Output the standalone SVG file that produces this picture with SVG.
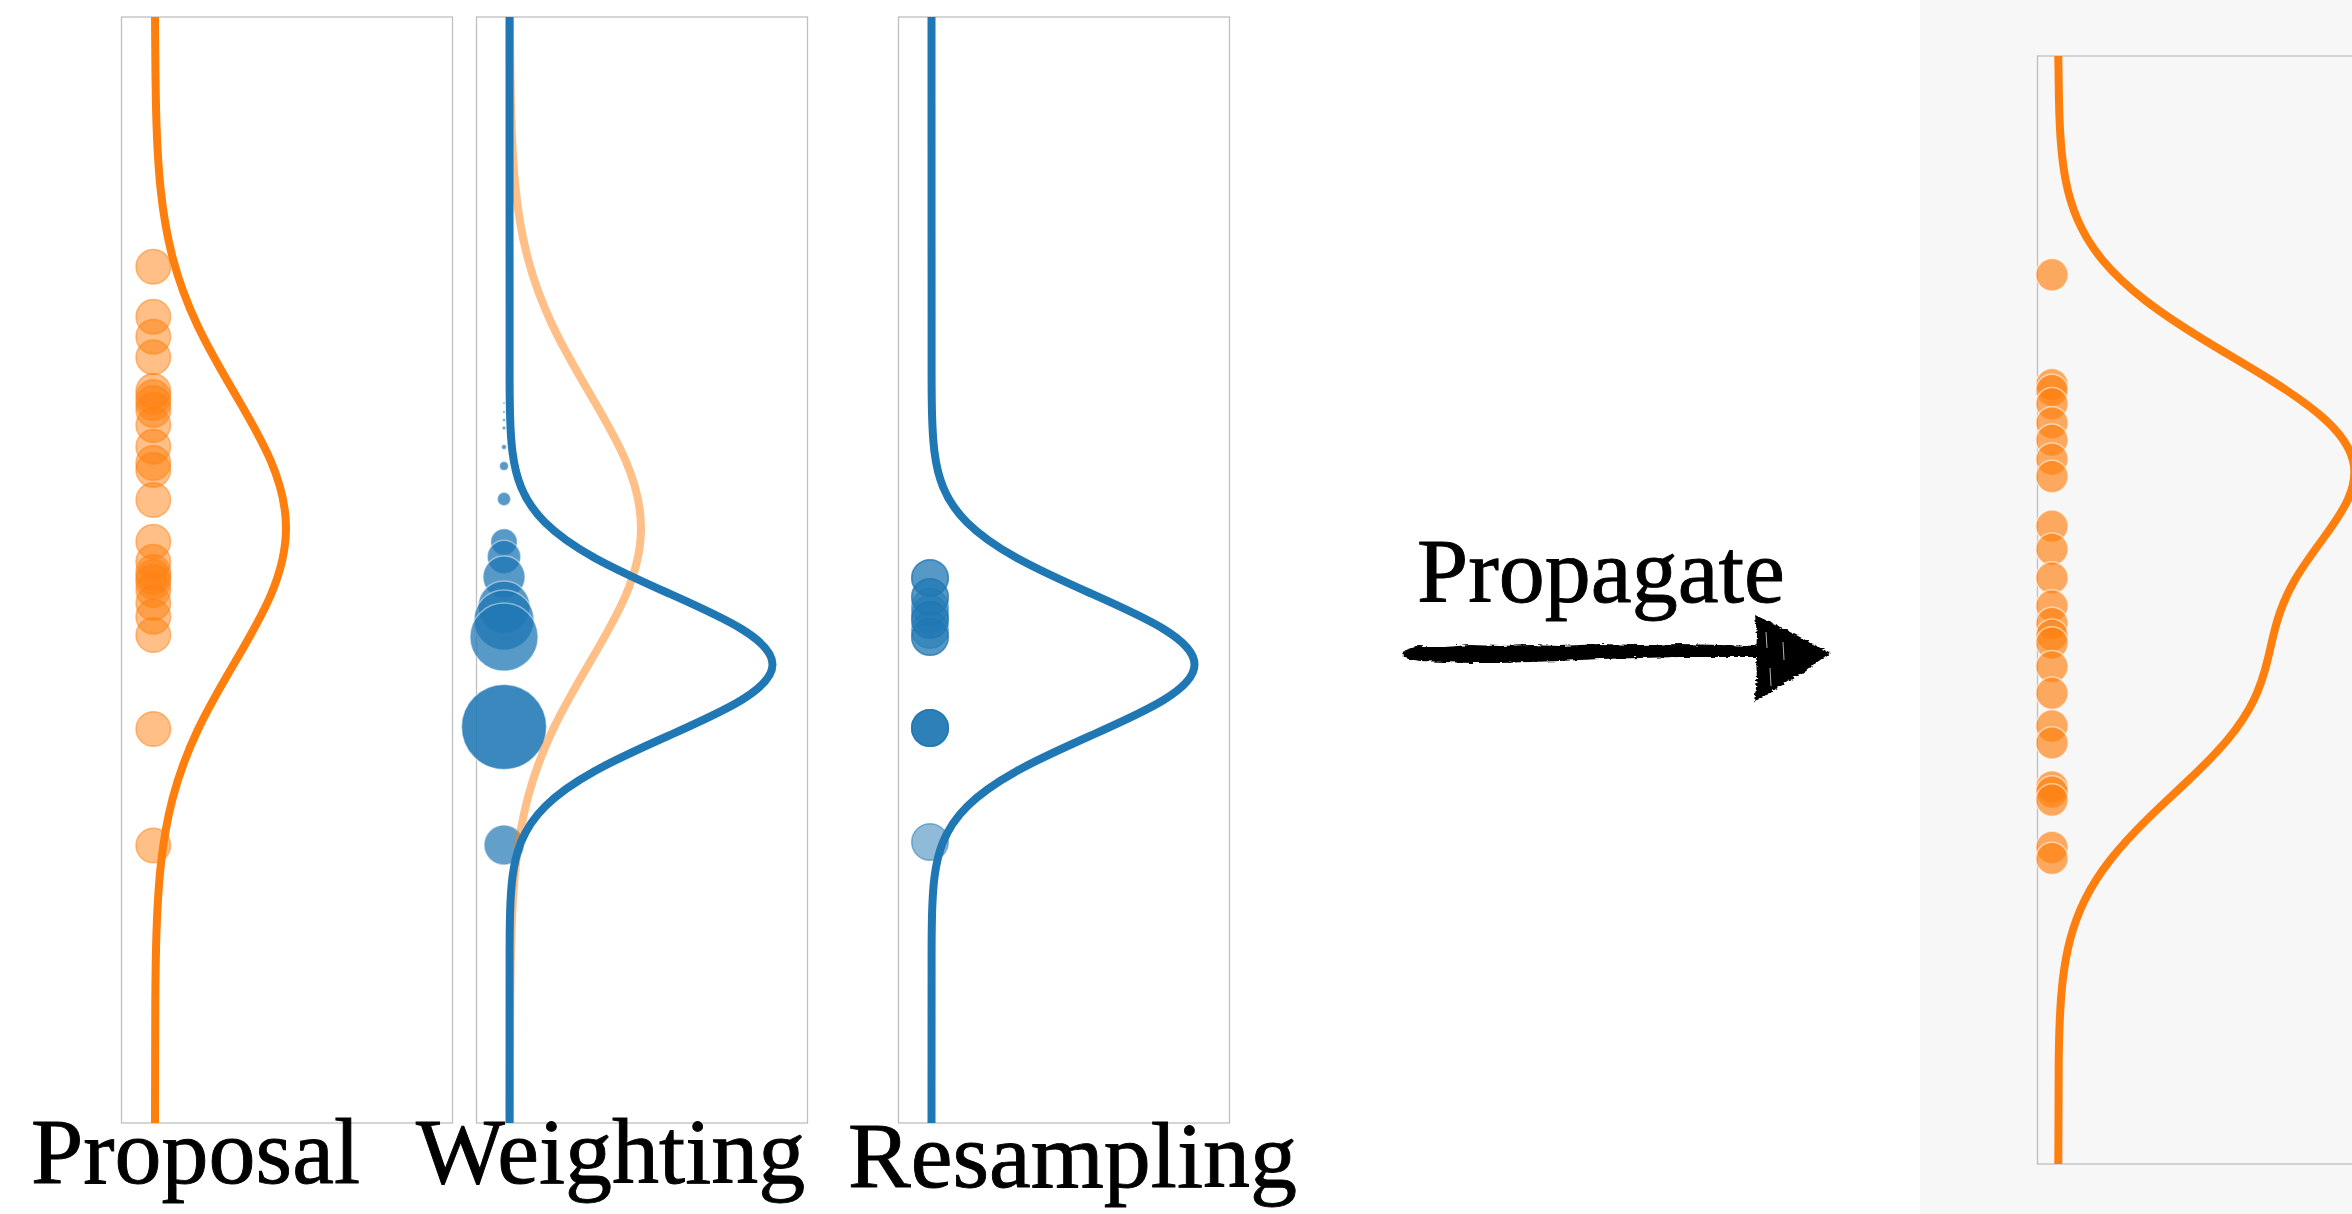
<svg xmlns="http://www.w3.org/2000/svg" xmlns:xlink="http://www.w3.org/1999/xlink" width="2352" height="1214" viewBox="0 0 2352 1214">
  <style>
    .frame { fill: none; stroke: #bfbfbf; stroke-width: 1.3; }
    .lbl { font-family: "Liberation Serif", "Times New Roman", serif; font-size: 94px; fill: #000; stroke: #000; stroke-width: 0.9; }
    .curve { fill: none; stroke-width: 8; }
    .orange { stroke: #ff7f0e; }
    .blue { stroke: #1f77b4; }
    .faded { stroke: #ff7f0e; stroke-opacity: 0.5; }
    .pts-proposal circle { fill: #ff7f0e; fill-opacity: 0.5; stroke: #ff7f0e; stroke-opacity: 0.5; stroke-width: 1.5; }
    .pts-weighted circle { fill: #1f77b4; fill-opacity: 0.75; stroke: #ffffff; stroke-opacity: 0.45; stroke-width: 1.5; }
    .pts-resampled circle { fill: #1f77b4; fill-opacity: 0.5; stroke: #1f77b4; stroke-opacity: 0.5; stroke-width: 1.5; }
    .pts-next circle { fill: #ff7f0e; fill-opacity: 0.65; stroke: #ffffff; stroke-opacity: 0.55; stroke-width: 1.5; }
  </style>
  <defs>
    <!-- proposal density (Gaussian), drawn in the first panel's coordinates -->
    <path id="proposalCurve" d="M155,17 L155.29,55.5 C155.46,78 155.73,100.5 156.46,123 S158.36,168 160.76,190.5 S166.82,235.5 172.73,258 S186.90,303 197.53,325.5 S221.22,370.5 234.46,393 S260.98,438 270.61,460.5 S286,505.5 286,528 S280.24,573 270.61,595.5 S247.70,640.5 234.46,663 S208.16,708 197.53,730.5 S178.64,775.5 172.73,798 S163.16,843 160.76,865.5 S157.19,910.5 156.46,933 S155.46,978 155.29,1000.5 L155,1123"/>
    <!-- target density (narrower Gaussian), drawn in the third panel's coordinates -->
    <path id="targetCurve" d="M931.5,17 L931.59,380.5 C931.65,392.33 931.74,404.17 932.08,416 S932.96,439.67 934.42,451.5 S938.25,475.17 943.06,487 S955.23,510.67 967.09,522.5 S995.53,546.17 1016.88,558 S1064.43,581.67 1091.02,593.5 S1144.26,617.17 1163.60,629 S1194.5,652.67 1194.5,664.5 S1182.94,688.17 1163.60,700 S1117.61,723.67 1091.02,735.5 S1038.23,759.17 1016.88,771 S978.95,794.67 967.09,806.5 S947.88,830.17 943.06,842 S935.88,865.67 934.42,877.5 S932.42,901.17 932.08,913 S931.65,936.67 931.59,948.5 L931.5,1123"/>
    <filter id="brush" x="-5%" y="-40%" width="110%" height="180%">
      <feTurbulence type="fractalNoise" baseFrequency="0.12 0.5" numOctaves="2" seed="7" result="noise"/>
      <feDisplacementMap in="SourceGraphic" in2="noise" scale="5" xChannelSelector="R" yChannelSelector="G"/>
    </filter>
  </defs>

  <rect x="0" y="0" width="2352" height="1214" fill="#ffffff"/>
  <!-- shaded area behind the propagated panel -->
  <rect x="1920" y="0" width="432" height="1214" fill="#f7f7f7"/>

  <!-- Panel 1: proposal -->
  <g id="proposal">
    <rect class="frame" x="121.5" y="17" width="331" height="1106"/>
    <g class="pts-proposal">
      <circle cx="153.3" cy="266.7" r="17.3"/>
      <circle cx="153.3" cy="316.7" r="17.3"/>
      <circle cx="153.3" cy="336.7" r="17.3"/>
      <circle cx="153.3" cy="357.3" r="17.3"/>
      <circle cx="153.3" cy="391" r="17.3"/>
      <circle cx="153.3" cy="397" r="17.3"/>
      <circle cx="153.3" cy="403" r="17.3"/>
      <circle cx="153.3" cy="410" r="17.3"/>
      <circle cx="153.3" cy="425" r="17.3"/>
      <circle cx="153.3" cy="446.7" r="17.3"/>
      <circle cx="153.3" cy="463" r="17.3"/>
      <circle cx="153.3" cy="470" r="17.3"/>
      <circle cx="153.3" cy="500" r="17.3"/>
      <circle cx="153.3" cy="541.7" r="17.3"/>
      <circle cx="153.3" cy="561.7" r="17.3"/>
      <circle cx="153.3" cy="572" r="17.3"/>
      <circle cx="153.3" cy="577" r="17.3"/>
      <circle cx="153.3" cy="582" r="17.3"/>
      <circle cx="153.3" cy="590" r="17.3"/>
      <circle cx="153.3" cy="603" r="17.3"/>
      <circle cx="153.3" cy="616.7" r="17.3"/>
      <circle cx="153.3" cy="635" r="17.3"/>
      <circle cx="153.3" cy="729" r="17.3"/>
      <circle cx="153.3" cy="845.5" r="17.3"/>
    </g>
    <use xlink:href="#proposalCurve" href="#proposalCurve" class="curve orange"/>
    <text class="lbl" x="31" y="1183">Proposal</text>
  </g>

  <!-- Panel 2: weighting -->
  <g id="weighting">
    <rect class="frame" x="476.5" y="17" width="331" height="1106"/>
    <g class="pts-weighted">
      <circle cx="504" cy="403" r="1"/>
      <circle cx="504" cy="412" r="1.2"/>
      <circle cx="504" cy="420" r="1.5"/>
      <circle cx="504" cy="428" r="1.8"/>
      <circle cx="504" cy="447" r="2.5"/>
      <circle cx="504" cy="466" r="4.5"/>
      <circle cx="504" cy="499" r="6.7"/>
      <circle cx="504" cy="542" r="13.3"/>
      <circle cx="504" cy="557" r="16.7"/>
      <circle cx="504" cy="577" r="21"/>
      <circle cx="504" cy="607" r="26"/>
      <circle cx="504" cy="620" r="30"/>
      <circle cx="504" cy="637" r="34"/>
      <circle cx="504" cy="727" r="42.5" style="fill-opacity:0.88"/>
      <circle cx="504" cy="845" r="20" style="fill-opacity:0.7"/>
    </g>
    <use xlink:href="#proposalCurve" href="#proposalCurve" class="curve faded" transform="translate(355,0)"/>
    <use xlink:href="#targetCurve" href="#targetCurve" class="curve blue" transform="translate(-422,0)"/>
    <text class="lbl" x="416" y="1183">Weighting</text>
  </g>

  <!-- Panel 3: resampling -->
  <g id="resampling">
    <rect class="frame" x="898.5" y="17" width="331" height="1106"/>
    <g class="pts-resampled">
      <circle cx="930" cy="578" r="18.3"/>
      <circle cx="930" cy="578" r="18.3"/>
      <circle cx="930" cy="597" r="18.3"/>
      <circle cx="930" cy="597" r="18.3"/>
      <circle cx="930" cy="607" r="18.3"/>
      <circle cx="930" cy="614" r="18.3"/>
      <circle cx="930" cy="620" r="18.3"/>
      <circle cx="930" cy="620" r="18.3"/>
      <circle cx="930" cy="630" r="18.3"/>
      <circle cx="930" cy="637" r="18.3"/>
      <circle cx="930" cy="637" r="18.3"/>
      <circle cx="930" cy="728" r="18.3"/>
      <circle cx="930" cy="728" r="18.3"/>
      <circle cx="930" cy="728" r="18.3"/>
      <circle cx="930" cy="728" r="18.3"/>
      <circle cx="930" cy="842" r="18.3"/>
    </g>
    <use xlink:href="#targetCurve" href="#targetCurve" class="curve blue"/>
    <text class="lbl" x="848" y="1187">Resampling</text>
  </g>

  <!-- Panel 4: propagated particles and predicted density -->
  <g id="propagated">
    <rect class="frame" x="2037.5" y="56" width="331" height="1108"/>
    <g class="pts-next">
      <circle cx="2052" cy="274.8" r="16.2"/>
      <circle cx="2052" cy="384.6" r="16.2"/>
      <circle cx="2052" cy="390.4" r="16.2"/>
      <circle cx="2052" cy="403.8" r="16.2"/>
      <circle cx="2052" cy="422.9" r="16.2"/>
      <circle cx="2052" cy="440.1" r="16.2"/>
      <circle cx="2052" cy="459.2" r="16.2"/>
      <circle cx="2052" cy="476.5" r="16.2"/>
      <circle cx="2052" cy="526.2" r="16.2"/>
      <circle cx="2052" cy="549.2" r="16.2"/>
      <circle cx="2052" cy="577.9" r="16.2"/>
      <circle cx="2052" cy="605.9" r="16.2"/>
      <circle cx="2052" cy="623.5" r="16.2"/>
      <circle cx="2052" cy="635.2" r="16.2"/>
      <circle cx="2052" cy="643" r="16.2"/>
      <circle cx="2052" cy="666.6" r="16.2"/>
      <circle cx="2052" cy="693.2" r="16.2"/>
      <circle cx="2052" cy="726" r="16.2"/>
      <circle cx="2052" cy="742.9" r="16.2"/>
      <circle cx="2052" cy="787" r="16.2"/>
      <circle cx="2052" cy="792" r="16.2"/>
      <circle cx="2052" cy="800" r="16.2"/>
      <circle cx="2052" cy="847.5" r="16.2"/>
      <circle cx="2052" cy="858.4" r="16.2"/>
    </g>
    <path class="curve orange" d="M2058.3,56 L2058.97,100 C2059.27,113.33 2059.73,126.67 2060.68,140 S2063.07,166.67 2065.63,180 S2071.90,206.67 2077.71,220 S2091.46,246.67 2102.46,260 S2127.57,286.67 2144.78,300 S2182.36,326.67 2204.15,340 S2249.13,366.67 2270.49,380 S2311.24,406.67 2325.65,420 S2349.37,446.67 2352.8,460 S2353.82,486.67 2347.7,500 S2331.92,526.67 2322.12,540 S2302.55,566.67 2294.85,580 S2281.54,606.67 2277.5,620 S2270.86,646.67 2267.6,660 S2260.28,686.67 2253.82,700 S2238.46,726.67 2227.28,740 S2202.72,766.67 2188.68,780 S2160.02,806.67 2146.51,820 S2120.62,846.67 2110.22,860 S2091.36,886.67 2084.79,900 S2073.47,926.67 2070.0,940 S2064.32,966.67 2062.78,980 S2060.36,1006.67 2059.78,1020 S2058.91,1046.67 2058.72,1060 L2058.3,1164"/>
  </g>

  <!-- hand-drawn arrow between the resampling step and the next time step -->
  <g id="connectors">
    <g filter="url(#brush)" fill="#000">
      <path d="M1403,651 L1418,646 L1445,647 L1470,645 L1500,646 L1530,645 L1560,646 L1600,644 L1640,645 L1680,644 L1720,645 L1760,646 L1760,657 L1720,657 L1680,657 L1640,658 L1600,659 L1560,661 L1530,662 L1500,663 L1470,663 L1445,662 L1420,661 L1404,658 Z"/>
      <path d="M1755,615 L1772,623 L1800,637 L1830,653 L1802,673 L1776,689 L1754,702 L1757,680 L1756,655 L1757,635 Z"/>
    </g>
    <g stroke="#ffffff" stroke-width="1" stroke-opacity="0.7" fill="none">
      <path d="M1766,632 L1767,648"/>
      <path d="M1783,642 L1784,660"/>
      <path d="M1770,668 L1771,686"/>
    </g>
    <text class="lbl" x="1417" y="602" style="font-size:92px">Propagate</text>
  </g>
</svg>
